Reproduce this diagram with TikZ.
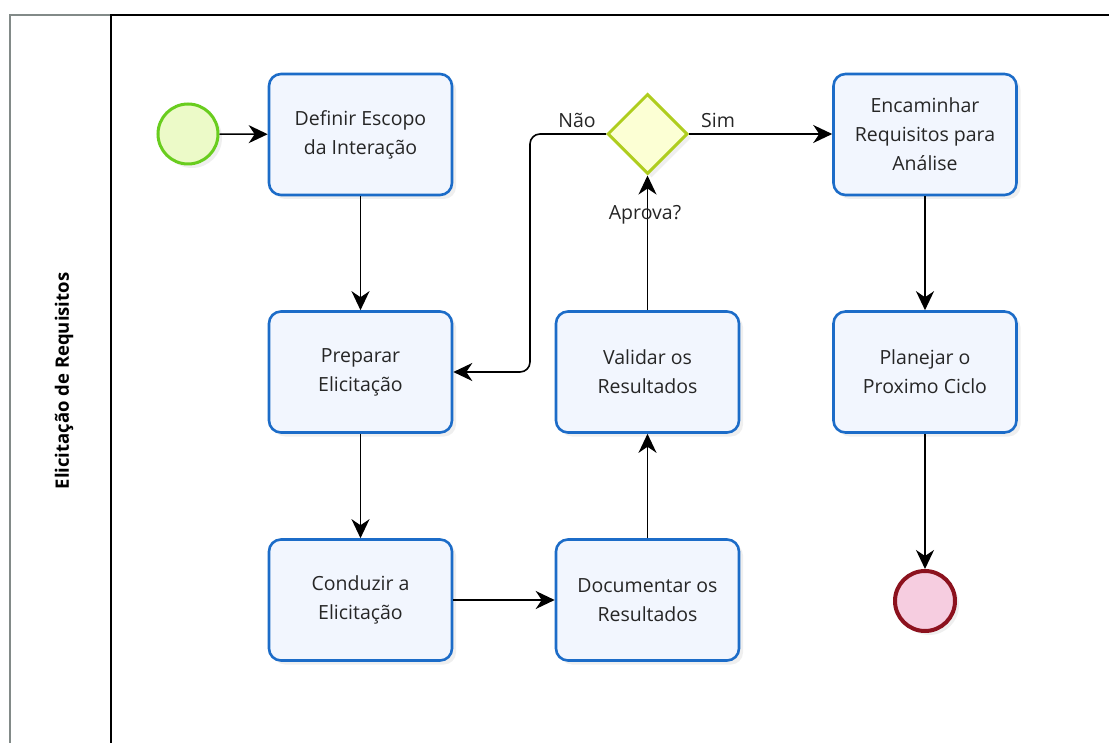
\documentclass[tikz,border=0pt]{standalone}
\usepackage{fontspec}
\setmainfont{Open Sans}
\usetikzlibrary{arrows.meta,shapes.geometric,shadows}
\definecolor{taskblue}{RGB}{28,108,200}
\definecolor{taskfill}{RGB}{242,246,254}
\definecolor{startgreen}{RGB}{105,205,30}
\definecolor{startfill}{RGB}{236,250,200}
\definecolor{gatecol}{RGB}{175,205,30}
\definecolor{gatefill}{RGB}{252,255,212}
\definecolor{endred}{RGB}{140,18,30}
\definecolor{endfill}{RGB}{246,205,224}
\definecolor{poolgray}{RGB}{130,138,136}
\tikzset{
  shd/.style={drop shadow={opacity=0.12,shadow xshift=4pt,shadow yshift=-4pt}},
  task/.style={draw=taskblue,line width=2.6pt,fill=taskfill,rounded corners=12pt,
    minimum width=183pt,minimum height=121pt,align=center,font=\fontsize{19.5}{29}\selectfont,
    text=black!85,shd},
  startev/.style={circle,draw=startgreen,line width=3pt,fill=startfill,minimum size=60pt,shd},
  endev/.style={circle,draw=endred,line width=4pt,fill=endfill,minimum size=60pt,shd},
  gate/.style={diamond,draw=gatecol,line width=3pt,fill=gatefill,minimum width=80pt,minimum height=80pt,inner sep=0pt,shd},
  flow/.style={draw=black,line width=1.6pt,-{Stealth[length=19pt,width=18pt,inset=6pt]}},
  lbl/.style={font=\fontsize{19.5}{22}\selectfont,text=black!85},
}
\begin{document}
\begin{tikzpicture}[x=1pt,y=-1pt]
\useasboundingbox (0,0) rectangle (1109,743);
\fill[white] (0,0) rectangle (1109,743);
% pool frame
\draw[poolgray,line width=2.5pt] (10,743) -- (10,15) -- (111,15);
\draw[black,line width=2.5pt] (111,743) -- (111,15) -- (1109,15);
\node[rotate=90,font=\bfseries\fontsize{18.5}{22}\selectfont] (lane) at (64,381) {Elicitação de Requisitos};
% nodes
\node[startev] (start) at (188,134) {};
\node[task] (def) at (360.5,134.5) {Definir Escopo\\da Interação};
\node[task] (prep) at (360.5,372) {Preparar\\Elicitação};
\node[task] (cond) at (360.5,600) {Conduzir a\\Elicitação};
\node[task] (doc) at (647.5,600) {Documentar os\\Resultados};
\node[task] (val) at (647.5,372) {Validar os\\Resultados};
\node[gate] (gw) at (647.5,134) {};
\node[task] (enc) at (925,134.5) {Encaminhar\\Requisitos para\\Análise};
\node[task] (plan) at (925,372) {Planejar o\\Proximo Ciclo};
\node[endev] (fim) at (925,601) {};
% labels
\node[lbl] (nao) at (577,120) {Não};
\node[lbl] (sim) at (718,120) {Sim};
% flows
\path[flow] (start) -- (def);
\path[flow] (def) -- (prep);
\path[flow] (prep) -- (cond);
\path[flow] (cond) -- (doc);
\path[flow] (doc) -- (val);
\path[flow] (val) -- (gw);
\path[flow] (gw.east) -- (enc.west |- gw.east);
\path[flow] (enc) -- (plan);
\path[flow] (plan) -- (fim);
\path[flow,rounded corners=10pt] (gw.west) -- (530,134) -- (530,372) -- (prep.east);
\node[lbl,inner sep=1pt] (aprova) at (645,215) {Aprova?};
\end{tikzpicture}
\end{document}
